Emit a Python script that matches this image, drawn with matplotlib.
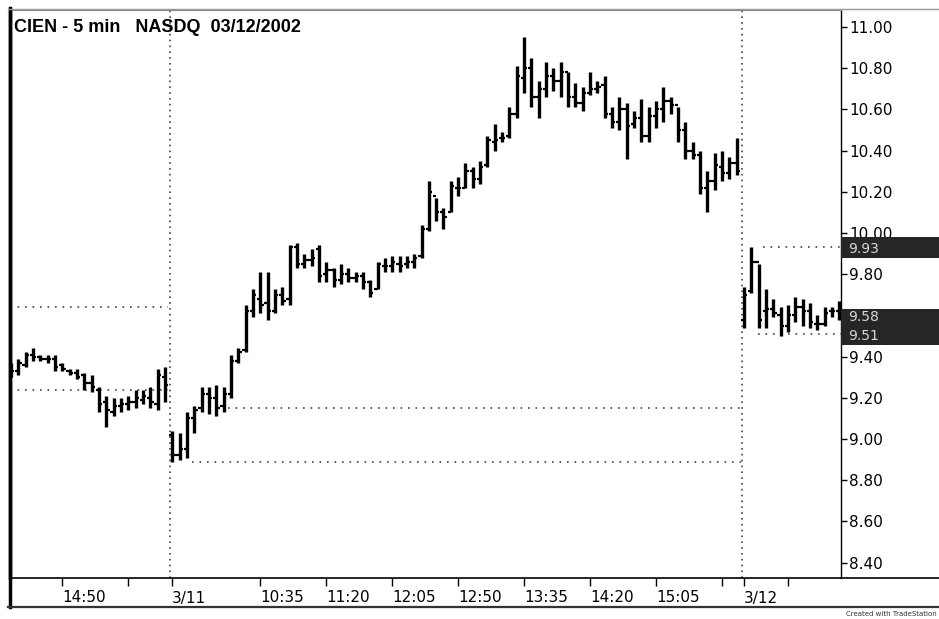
import numpy as np
import pandas as pd
import matplotlib
matplotlib.use("Agg")
import matplotlib.pyplot as plt
from matplotlib.patches import Rectangle
from matplotlib.lines import Line2D

# 5 minute bars, CIEN
mar08_open = [9.32, 9.33, 9.36, 9.41, 9.40, 9.39, 9.39, 9.36, 9.33, 9.32, 9.31,
              9.27, 9.24, 9.18, 9.13, 9.16, 9.17, 9.18, 9.19, 9.20, 9.17, 9.30]
mar08_high = [9.37, 9.39, 9.42, 9.44, 9.41, 9.41, 9.41, 9.37, 9.34, 9.34, 9.32,
              9.31, 9.25, 9.21, 9.20, 9.20, 9.21, 9.24, 9.24, 9.25, 9.34, 9.35]
mar08_low = [9.30, 9.31, 9.35, 9.38, 9.38, 9.37, 9.33, 9.33, 9.31, 9.29, 9.24,
             9.23, 9.13, 9.06, 9.11, 9.13, 9.14, 9.15, 9.17, 9.15, 9.14, 9.18]
mar08_close = [9.33, 9.37, 9.41, 9.40, 9.39, 9.39, 9.35, 9.34, 9.32, 9.30, 9.27,
               9.25, 9.17, 9.14, 9.16, 9.17, 9.18, 9.20, 9.21, 9.18, 9.31, 9.26]

mar11_open = [9.02, 8.92, 8.95, 9.10, 9.15, 9.22, 9.20, 9.16, 9.22, 9.38,
              9.43, 9.62, 9.68, 9.66, 9.62, 9.70, 9.68, 9.93, 9.85, 9.87,
              9.92, 9.80, 9.82, 9.77, 9.80, 9.78, 9.79, 9.76, 9.73, 9.84,
              9.84, 9.85, 9.85, 9.86, 9.89, 10.02, 10.18, 10.10, 10.10, 10.22,
              10.22, 10.30, 10.26, 10.33, 10.44, 10.46, 10.47, 10.58, 10.75, 10.80,
              10.66, 10.70, 10.76, 10.74, 10.78, 10.66, 10.63, 10.68, 10.70, 10.72,
              10.58, 10.54, 10.60, 10.53, 10.56, 10.47, 10.57, 10.60, 10.64, 10.62,
              10.50, 10.40, 10.38, 10.22, 10.25, 10.32, 10.29, 10.34]
mar11_high = [9.04, 9.03, 9.13, 9.16, 9.25, 9.25, 9.26, 9.25, 9.41, 9.44,
              9.65, 9.73, 9.81, 9.81, 9.73, 9.74, 9.94, 9.95, 9.90, 9.92,
              9.94, 9.86, 9.83, 9.85, 9.83, 9.81, 9.81, 9.77, 9.86, 9.88,
              9.89, 9.89, 9.89, 9.90, 10.04, 10.25, 10.17, 10.12, 10.25, 10.27,
              10.34, 10.32, 10.35, 10.47, 10.53, 10.49, 10.61, 10.81, 10.95, 10.85,
              10.74, 10.83, 10.80, 10.83, 10.78, 10.73, 10.71, 10.78, 10.74, 10.76,
              10.61, 10.66, 10.63, 10.59, 10.65, 10.61, 10.64, 10.71, 10.66, 10.61,
              10.54, 10.44, 10.40, 10.30, 10.39, 10.40, 10.37, 10.46]
mar11_low = [8.89, 8.90, 8.91, 9.03, 9.13, 9.12, 9.11, 9.13, 9.20, 9.37,
             9.42, 9.59, 9.61, 9.58, 9.61, 9.65, 9.65, 9.83, 9.83, 9.84,
             9.76, 9.76, 9.74, 9.75, 9.76, 9.76, 9.73, 9.69, 9.73, 9.81,
             9.81, 9.81, 9.83, 9.83, 9.88, 10.01, 10.06, 10.02, 10.10, 10.18,
             10.22, 10.22, 10.24, 10.32, 10.40, 10.44, 10.46, 10.56, 10.68, 10.61,
             10.56, 10.66, 10.69, 10.66, 10.61, 10.61, 10.59, 10.67, 10.68, 10.56,
             10.51, 10.50, 10.36, 10.51, 10.44, 10.44, 10.51, 10.54, 10.58, 10.44,
             10.36, 10.36, 10.19, 10.10, 10.21, 10.25, 10.26, 10.28]
mar11_close = [8.92, 8.95, 9.10, 9.14, 9.22, 9.20, 9.15, 9.22, 9.38, 9.42,
               9.62, 9.70, 9.65, 9.62, 9.70, 9.67, 9.93, 9.85, 9.87, 9.88,
               9.79, 9.82, 9.77, 9.80, 9.78, 9.79, 9.76, 9.71, 9.85, 9.84,
               9.86, 9.84, 9.86, 9.88, 10.02, 10.20, 10.10, 10.08, 10.23, 10.22,
               10.30, 10.26, 10.32, 10.45, 10.45, 10.46, 10.58, 10.76, 10.80, 10.66,
               10.70, 10.76, 10.74, 10.78, 10.66, 10.63, 10.68, 10.70, 10.71, 10.58,
               10.54, 10.60, 10.52, 10.56, 10.47, 10.57, 10.60, 10.64, 10.62, 10.50,
               10.40, 10.38, 10.22, 10.25, 10.33, 10.29, 10.34, 10.30]

mar12_open = [9.58, 9.72, 9.86, 9.62, 9.63, 9.60, 9.55, 9.60, 9.64, 9.62, 9.56, 9.56, 9.62, 9.62]
mar12_high = [9.74, 9.93, 9.85, 9.73, 9.68, 9.64, 9.65, 9.69, 9.68, 9.66, 9.60, 9.64, 9.64, 9.67]
mar12_low = [9.54, 9.71, 9.54, 9.54, 9.59, 9.50, 9.52, 9.57, 9.55, 9.54, 9.53, 9.55, 9.59, 9.58]
mar12_close = [9.70, 9.86, 9.58, 9.63, 9.61, 9.55, 9.60, 9.64, 9.62, 9.57, 9.56, 9.61, 9.62, 9.60]

# dotted reference lines per day
mar08_levels = [9.64, 9.24]
mar11_levels = [9.15, 8.89]
mar12_levels = [9.93, 9.51]

# price flags on the right axis
flag_values = [9.93, 9.58, 9.51]

price_ticks = np.round(np.arange(8.4, 11.01, 0.2), 2)
tick_times = ["2002-03-08 14:50", "2002-03-08 15:35", "2002-03-11 09:35",
              "2002-03-11 10:35", "2002-03-11 11:20", "2002-03-11 12:05",
              "2002-03-11 12:50", "2002-03-11 13:35", "2002-03-11 14:20",
              "2002-03-11 15:05", "2002-03-11 15:50", "2002-03-12 09:35",
              "2002-03-12 10:05"]
tick_labels = ["14:50", "", "3/11", "10:35", "11:20", "12:05", "12:50",
               "13:35", "14:20", "15:05", "", "3/12", ""]

days = [
    ("2002-03-08 14:15", mar08_open, mar08_high, mar08_low, mar08_close),
    ("2002-03-11 09:35", mar11_open, mar11_high, mar11_low, mar11_close),
    ("2002-03-12 09:35", mar12_open, mar12_high, mar12_low, mar12_close),
]

times = pd.DatetimeIndex([])
starts = []
for first, o, h, l, c in days:
    starts.append(len(times))
    times = times.append(pd.date_range(first, periods=len(o), freq="5min"))
n_bars = len(times)

fig = plt.figure(figsize=(9.39, 6.19), dpi=100)
ax = fig.add_axes([10 / 939, 41 / 619, 831 / 939, 568 / 619])

for (first, o, h, l, c), s in zip(days, starts):
    x = np.arange(len(o)) + s
    ax.vlines(x, l, h, color="black", lw=2.4, zorder=3)
    ax.hlines(o, x - 0.45, x, color="black", lw=1.6, zorder=3)
    ax.hlines(c, x, x + 0.45, color="black", lw=1.6, zorder=3)

dot = dict(color="#444444", lw=1.2, linestyles=(0, (1, 3.5)), zorder=2)
ax.hlines(mar08_levels, starts[0] - 0.2, starts[1] - 0.6, **dot)
ax.hlines(mar11_levels[0], starts[1] + 7.6, starts[2] - 0.3, **dot)
ax.hlines(mar11_levels[1], starts[1] + 2.7, starts[2] - 0.3, **dot)
ax.hlines(mar12_levels[0], starts[2] + 2.6, n_bars + 1, **dot)
ax.hlines(mar12_levels[1], starts[2] + 1.9, n_bars + 1, **dot)
for s in starts[1:]:
    ax.axvline(s - 0.25, color="#444444", lw=1.2, linestyle=(0, (1, 2.5)), zorder=2)

ax.set_xlim(-0.14, n_bars - 0.77)
ax.set_ylim(8.3252, 11.0825)

# axes styling; the 9.60 label sits under the last-price flag
ax.yaxis.tick_right()
ax.set_yticks(price_ticks)
ax.set_yticklabels(["" if abs(v - 9.6) < 1e-6 else f"{v:.2f}" for v in price_ticks])
ax.tick_params(axis="y", direction="out", length=4, width=1, pad=2,
               labelsize=11, colors="black")
pos = times.get_indexer(pd.to_datetime(tick_times))
ax.set_xticks(pos)
ax.set_xticklabels(tick_labels)
ax.tick_params(axis="x", direction="out", length=6, width=1, pad=3, labelsize=11)
for lbl in ax.get_xticklabels():
    lbl.set_ha("left")
ax.spines["top"].set_color("#888888")
ax.spines["left"].set_linewidth(2.5)
ax.spines["right"].set_linewidth(1.0)
ax.spines["bottom"].set_linewidth(1.2)

# flags on the price scale
yax = ax.get_yaxis_transform()
ax.add_patch(Rectangle((1.0, 9.88), 0.13, 0.10, transform=yax, clip_on=False,
                       facecolor="#262626", edgecolor="none", zorder=5))
ax.add_patch(Rectangle((1.0, 9.455), 0.13, 0.175, transform=yax, clip_on=False,
                       facecolor="#262626", edgecolor="none", zorder=5))
for v, dy in zip(flag_values, [-0.008, 0.012, -0.01]):
    ax.text(1.0085, v + dy, f"{v:.2f}", transform=yax, fontsize=10,
            color="#d8d8d8", va="center", ha="left", zorder=6, clip_on=False)

# title and frame
fig.text(14 / 939, 1 - 27 / 619, "CIEN - 5 min   NASDQ  03/12/2002",
         fontsize=13, fontweight="bold", family="Liberation Sans", va="center")
fig.add_artist(Line2D([10 / 939, 10 / 939], [1 - 607 / 619, 1 - 8 / 619],
                      transform=fig.transFigure, color="black", lw=2.5))
fig.add_artist(Line2D([8 / 939, 1], [1 - 607 / 619, 1 - 607 / 619],
                      transform=fig.transFigure, color="#333333", lw=1.6))
fig.add_artist(Line2D([841 / 939, 1], [41 / 619, 41 / 619],
                      transform=fig.transFigure, color="black", lw=1.2))
fig.add_artist(Line2D([8 / 939, 1], [1 - 9 / 619, 1 - 9 / 619],
                      transform=fig.transFigure, color="#999999", lw=1.0))
fig.text(0.998, 0.004, "Created with TradeStation", fontsize=5, ha="right",
         va="bottom", color="#333333")

fig.savefig("out.png", dpi=100)
